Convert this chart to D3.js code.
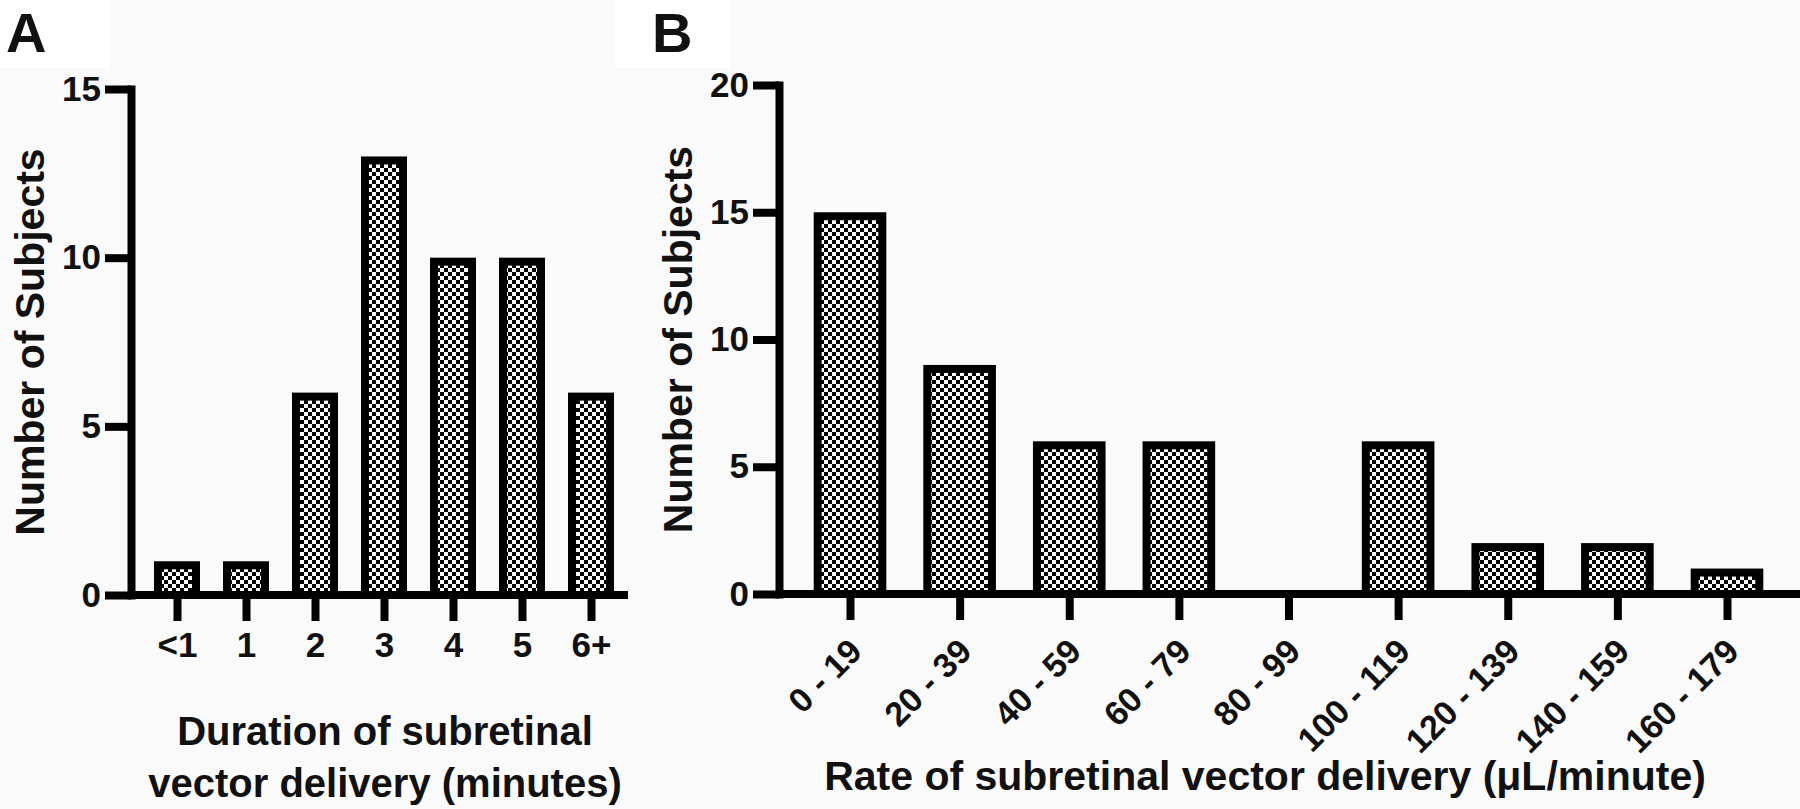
<!DOCTYPE html>
<html>
<head>
<meta charset="utf-8">
<script src="https://cdn.jsdelivr.net/npm/d3@7"></script>
<style>
  html, body { margin: 0; padding: 0; background: #fafafa; }
  svg { display: block; }
  text { font-family: "Liberation Sans", Arial, Helvetica, sans-serif; font-weight: bold; fill: #111; }
</style>
</head>
<body>
<script>
// ---------- data ----------
const categoriesA = ["<1", "1", "2", "3", "4", "5", "6+"];
const valuesA = [1, 1, 6, 13, 10, 10, 6];
const yTicksA = [0, 5, 10, 15];

const categoriesB = ["0 - 19", "20 - 39", "40 - 59", "60 - 79", "80 - 99", "100 - 119", "120 - 139", "140 - 159", "160 - 179"];
const valuesB = [15, 9, 6, 6, 0, 6, 2, 2, 1];
const yTicksB = [0, 5, 10, 15, 20];

const W = 1800, H = 809;
const svg = d3.select("body").append("svg").attr("width", W).attr("height", H);

svg.append("rect").attr("width", W).attr("height", H).attr("fill", "#fafafa");
svg.append("rect").attr("x", 0).attr("y", 0).attr("width", 110).attr("height", 68).attr("fill", "#ffffff");
svg.append("rect").attr("x", 615).attr("y", 0).attr("width", 115).attr("height", 68).attr("fill", "#ffffff");

// checkerboard pattern
const defs = svg.append("defs");
const pat = defs.append("pattern").attr("id", "checker")
  .attr("patternUnits", "userSpaceOnUse").attr("width", 8).attr("height", 8);
pat.append("rect").attr("width", 8).attr("height", 8).attr("fill", "#ffffff");
pat.append("rect").attr("x", 0).attr("y", 0).attr("width", 4).attr("height", 4).attr("fill", "#000");
pat.append("rect").attr("x", 4).attr("y", 4).attr("width", 4).attr("height", 4).attr("fill", "#000");

function panel(cfg) {
  const g = svg.append("g");
  const y = d3.scaleLinear().domain(cfg.yDomain).range([cfg.y0, cfg.y1]);
  const x = d3.scalePoint().domain(cfg.categories).range([cfg.xFirst, cfg.xLast]);

  // bars
  g.selectAll("rect.bar")
    .data(cfg.categories.map((c, i) => ({c, v: cfg.values[i]})).filter(d => d.v > 0))
    .join("rect")
    .attr("class", "bar")
    .attr("x", d => x(d.c) - cfg.barW / 2)
    .attr("width", cfg.barW)
    .attr("y", d => y(d.v) + 4)
    .attr("height", d => y(0) - y(d.v) - 4)
    .attr("fill", "url(#checker)")
    .attr("stroke", "#000")
    .attr("stroke-width", 8);

  // y axis
  const yAxis = g.append("g").attr("transform", `translate(${cfg.axisX},0)`)
    .call(d3.axisLeft(y).tickValues(cfg.yTicks).tickSizeInner(26).tickSizeOuter(0).tickPadding(4).tickFormat(d3.format("d")));
  yAxis.select(".domain").attr("stroke", "#000").attr("stroke-width", 8).attr("stroke-linecap", "square");
  yAxis.selectAll(".tick line").attr("stroke", "#000").attr("stroke-width", 8);
  yAxis.selectAll(".tick text").attr("font-size", 35).attr("fill", "#111")
    .attr("font-family", "Liberation Sans, Arial, sans-serif").attr("font-weight", "bold");

  // x axis baseline
  g.append("line").attr("x1", cfg.axisX).attr("x2", cfg.xAxisEnd)
    .attr("y1", y(0)).attr("y2", y(0)).attr("stroke", "#000").attr("stroke-width", 8);

  const xAxis = g.append("g").attr("transform", `translate(0,${y(0)})`)
    .call(d3.axisBottom(x).tickSizeInner(26).tickSizeOuter(0).tickPadding(cfg.xPad));
  xAxis.select(".domain").remove();
  xAxis.selectAll(".tick line").attr("stroke", "#000").attr("stroke-width", 8);
  xAxis.selectAll(".tick text").attr("font-size", cfg.xFont).attr("fill", "#111")
    .attr("font-family", "Liberation Sans, Arial, sans-serif").attr("font-weight", "bold");
  if (cfg.rotate) {
    xAxis.selectAll(".tick text")
      .attr("text-anchor", "end")
      .attr("transform", "translate(5,51) rotate(-45)")
      .attr("y", 0).attr("dy", "0.35em");
  }

  // y title
  g.append("text")
    .attr("transform", `translate(${cfg.yTitleX},${(cfg.y0 + cfg.y1) / 2}) rotate(-90)`)
    .attr("text-anchor", "middle").attr("font-size", 41)
    .text("Number of Subjects");

  // panel letter
  g.append("text").attr("x", cfg.letterX).attr("y", 52).attr("font-size", 56).text(cfg.letter);
  return {x, y};
}

panel({
  letter: "A", letterX: 6,
  categories: categoriesA, values: valuesA, yTicks: yTicksA,
  yDomain: [0, 15], y0: 595, y1: 89,
  axisX: 131, xFirst: 177, xLast: 591, xAxisEnd: 628,
  barW: 38, xPad: 11, xFont: 35, yTitleX: 44, rotate: false
});

panel({
  letter: "B", letterX: 652,
  categories: categoriesB, values: valuesB, yTicks: yTicksB,
  yDomain: [0, 20], y0: 594, y1: 85,
  axisX: 779, xFirst: 850, xLast: 1727, xAxisEnd: 1800,
  barW: 64.6, xPad: 12, xFont: 34, yTitleX: 692, rotate: true
});

// x titles
svg.append("text").attr("x", 385).attr("y", 745).attr("text-anchor", "middle").attr("font-size", 40)
  .text("Duration of subretinal");
svg.append("text").attr("x", 385).attr("y", 797).attr("text-anchor", "middle").attr("font-size", 40)
  .text("vector delivery (minutes)");
svg.append("text").attr("x", 1265).attr("y", 790).attr("text-anchor", "middle").attr("font-size", 41)
  .text("Rate of subretinal vector delivery (μL/minute)");
</script>
</body>
</html>
